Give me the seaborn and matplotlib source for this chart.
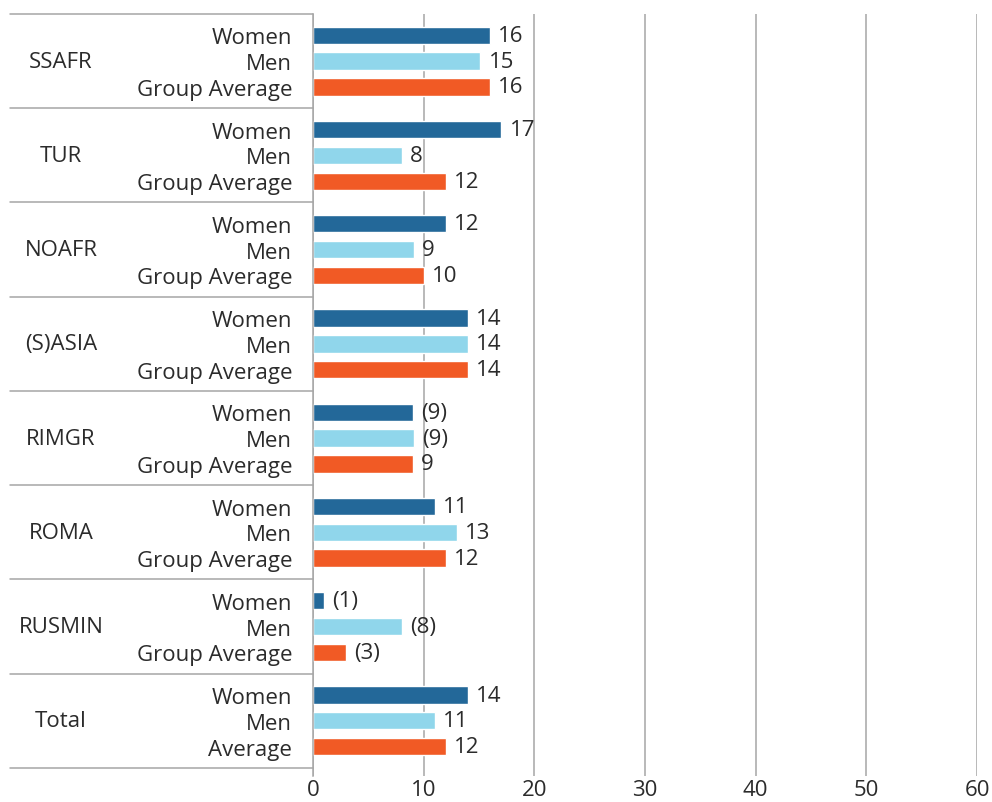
import matplotlib
matplotlib.use("Agg")
import matplotlib.pyplot as plt
import matplotlib.transforms as mtransforms
import pandas as pd
import seaborn as sns

groups = ["SSAFR", "TUR", "NOAFR", "(S)ASIA", "RIMGR", "ROMA", "RUSMIN", "Total"]
series = ["Women", "Men", "Group Average"]
women = [16, 17, 12, 14, 9, 11, 1, 14]
men = [15.1, 8, 9.1, 14, 9.1, 13, 8, 11]
group_avg = [16, 12, 10, 14, 9, 12, 3, 12]
women_lbl = ["16", "17", "12", "14", "(9)", "11", "(1)", "14"]
men_lbl = ["15", "8", "9", "14", "(9)", "13", "(8)", "11"]
avg_lbl = ["16", "12", "10", "14", "9", "12", "(3)", "12"]
inner_names = [["Women", "Men", "Group Average"]] * 7 + [["Women", "Men", "Average"]]
xticks = [0, 10, 20, 30, 40, 50, 60]
colors = ["#236899", "#90d6eb", "#f15a25"]

rows = []
for i, g in enumerate(groups):
    for s, vals in zip(series, [women, men, group_avg]):
        rows.append({"group": g, "series": s, "value": vals[i]})
df = pd.DataFrame(rows)

sns.set_style("white")
plt.rcParams["font.family"] = ["Open Sans", "DejaVu Sans"]
txt = "#2b2b2b"
line_c = "#a6a6a6"
fs = 16

fig = plt.figure(figsize=(9.92, 8.03), dpi=100)
ax = fig.add_axes([313 / 992, 1 - 777 / 803, 664 / 992, 762 / 803])

sns.barplot(data=df, x="value", y="group", hue="series", order=groups,
            hue_order=series, palette=colors, orient="h", width=0.82,
            gap=0.33, saturation=1, legend=False, ax=ax)

ax.set_xlim(0, 60)
ax.set_ylim(7.585, -0.5)
ax.set_xticks(xticks)
ax.xaxis.grid(True, color=line_c, linewidth=1.1)
ax.set_axisbelow(True)
for sp in ["top", "right", "bottom"]:
    ax.spines[sp].set_visible(False)
ax.spines["left"].set_color(line_c)
ax.spines["left"].set_linewidth(1.1)
ax.tick_params(axis="x", length=0, pad=2, labelsize=fs, labelcolor=txt)
ax.set_xlabel("")
ax.set_ylabel("")

# value labels
for cont, lbls in zip(ax.containers, [women_lbl, men_lbl, avg_lbl]):
    ax.bar_label(cont, labels=lbls, padding=6, fontsize=fs, color=txt)

# bar-level tick labels
pos, names = [], []
for k, cont in enumerate(ax.containers):
    for i, p in enumerate(cont.patches):
        pos.append(p.get_y() + p.get_height() / 2)
        names.append(inner_names[i][k])
ax.set_yticks(pos)
ax.set_yticklabels(names)
ax.tick_params(axis="y", length=0, pad=15, labelsize=fs, labelcolor=txt)

# group labels and separators in the label panel
tr = mtransforms.blended_transform_factory(ax.transAxes, ax.transData)
for i, g in enumerate(groups):
    ax.text(-0.3795, i, g, transform=tr, ha="center", va="center",
            fontsize=fs, color=txt)
for b in [i - 0.5 for i in range(len(groups) + 1)]:
    ax.plot([-0.456, 0], [b, b], transform=tr, color=line_c,
            linewidth=1.1, clip_on=False)

fig.savefig("out.png", dpi=100)
